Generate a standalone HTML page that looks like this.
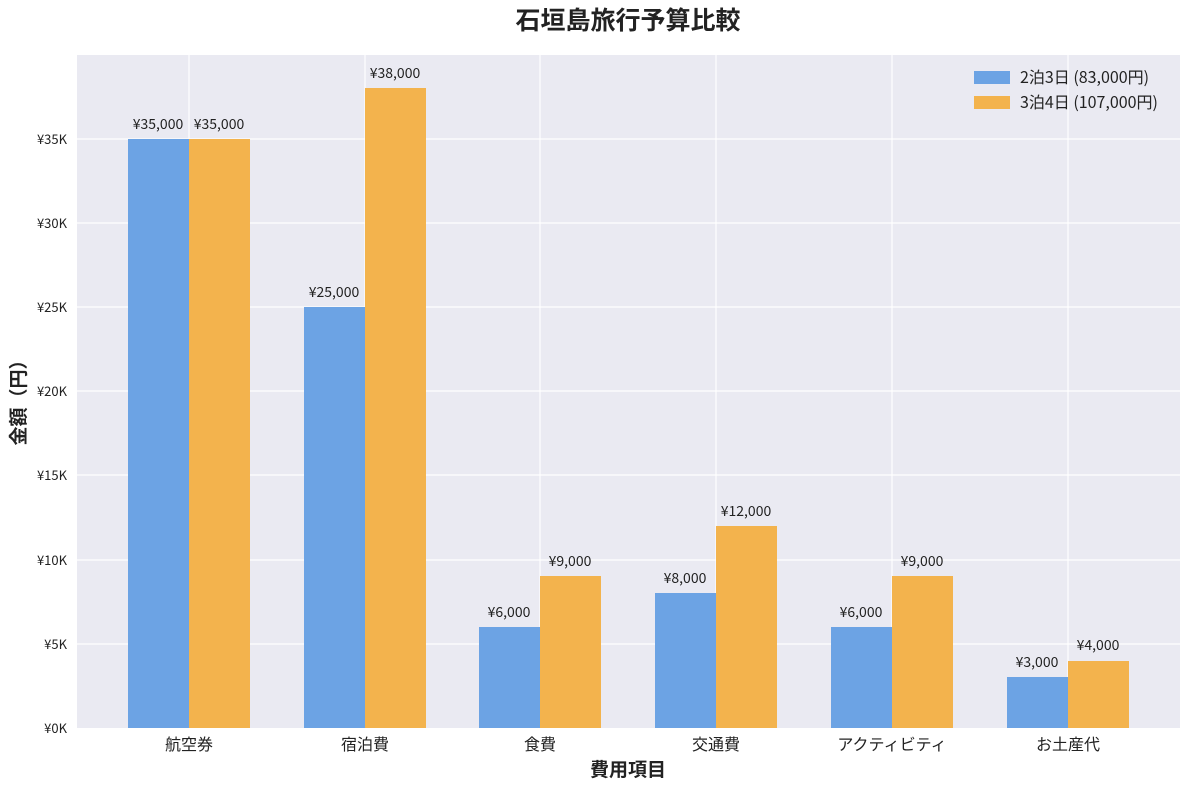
<!DOCTYPE html>
<html><head><meta charset="utf-8"><style>
body{margin:0;background:#fff;}
svg text{font-family:"Noto Sans CJK JP","Liberation Sans",sans-serif;}
</style></head><body>
<svg width="1189" height="789" viewBox="0 0 1189 789" xmlns="http://www.w3.org/2000/svg">
<rect width="1189" height="789" fill="#fff"/>
<rect x="77" y="55" width="1103" height="673" fill="#eaeaf2"/>
<g stroke="#fff" stroke-width="1.2">
<line x1="77" x2="1180" y1="644" y2="644"/>
<line x1="77" x2="1180" y1="560" y2="560"/>
<line x1="77" x2="1180" y1="475" y2="475"/>
<line x1="77" x2="1180" y1="391" y2="391"/>
<line x1="77" x2="1180" y1="307" y2="307"/>
<line x1="77" x2="1180" y1="223" y2="223"/>
<line x1="77" x2="1180" y1="139" y2="139"/>
<line y1="55" y2="728" x1="189" x2="189"/>
<line y1="55" y2="728" x1="365" x2="365"/>
<line y1="55" y2="728" x1="540" x2="540"/>
<line y1="55" y2="728" x1="716" x2="716"/>
<line y1="55" y2="728" x1="892" x2="892"/>
<line y1="55" y2="728" x1="1068" x2="1068"/>
</g>
<g fill="#6ca3e4">
<rect x="128" y="139" width="61" height="589"/>
<rect x="304" y="307" width="61" height="421"/>
<rect x="479" y="627" width="61" height="101"/>
<rect x="655" y="593" width="61" height="135"/>
<rect x="831" y="627" width="61" height="101"/>
<rect x="1007" y="677" width="61" height="51"/>
</g>
<g fill="#f3b34d">
<rect x="189" y="139" width="61" height="589"/>
<rect x="365" y="88" width="61" height="640"/>
<rect x="540" y="576" width="61" height="152"/>
<rect x="716" y="526" width="61" height="202"/>
<rect x="892" y="576" width="61" height="152"/>
<rect x="1068" y="661" width="61" height="67"/>
</g>
<g font-size="14" fill="#222" text-anchor="middle">
<text x="158" y="129">¥35,000</text><text x="219" y="129">¥35,000</text>
<text x="334" y="297">¥25,000</text><text x="395" y="78">¥38,000</text>
<text x="509" y="617">¥6,000</text><text x="570" y="566">¥9,000</text>
<text x="685" y="583">¥8,000</text><text x="746" y="516">¥12,000</text>
<text x="861" y="617">¥6,000</text><text x="922" y="566">¥9,000</text>
<text x="1037" y="667">¥3,000</text><text x="1098" y="650">¥4,000</text>
</g>
<g font-size="13" fill="#222" text-anchor="end">
<text x="67" y="733">¥0K</text><text x="67" y="649">¥5K</text><text x="67" y="565">¥10K</text>
<text x="67" y="480">¥15K</text><text x="67" y="396">¥20K</text><text x="67" y="312">¥25K</text>
<text x="67" y="228">¥30K</text><text x="67" y="144">¥35K</text>
</g>
<g font-size="16" fill="#222" text-anchor="middle">
<text x="189" y="750">航空券</text><text x="365" y="750">宿泊費</text><text x="540" y="750">食費</text>
<text x="716" y="750">交通費</text><text x="892" y="750">アクティビティ</text><text x="1068" y="750">お土産代</text>
</g>
<text x="628" y="776" font-size="19" font-weight="bold" text-anchor="middle" fill="#222">費用項目</text>
<text transform="translate(25,398) rotate(-90)" font-size="19" font-weight="bold" text-anchor="middle" fill="#222">金額（円）</text>
<text x="628" y="29" font-size="25" font-weight="bold" text-anchor="middle" fill="#222">石垣島旅行予算比較</text>
<rect x="974" y="71" width="36" height="13" fill="#6ca3e4"/>
<rect x="974" y="96" width="36" height="13" fill="#f3b34d"/>
<text x="1020" y="83" font-size="16" fill="#222">2泊3日 (83,000円)</text>
<text x="1020" y="108" font-size="16" fill="#222">3泊4日 (107,000円)</text>
</svg>
</body></html>
